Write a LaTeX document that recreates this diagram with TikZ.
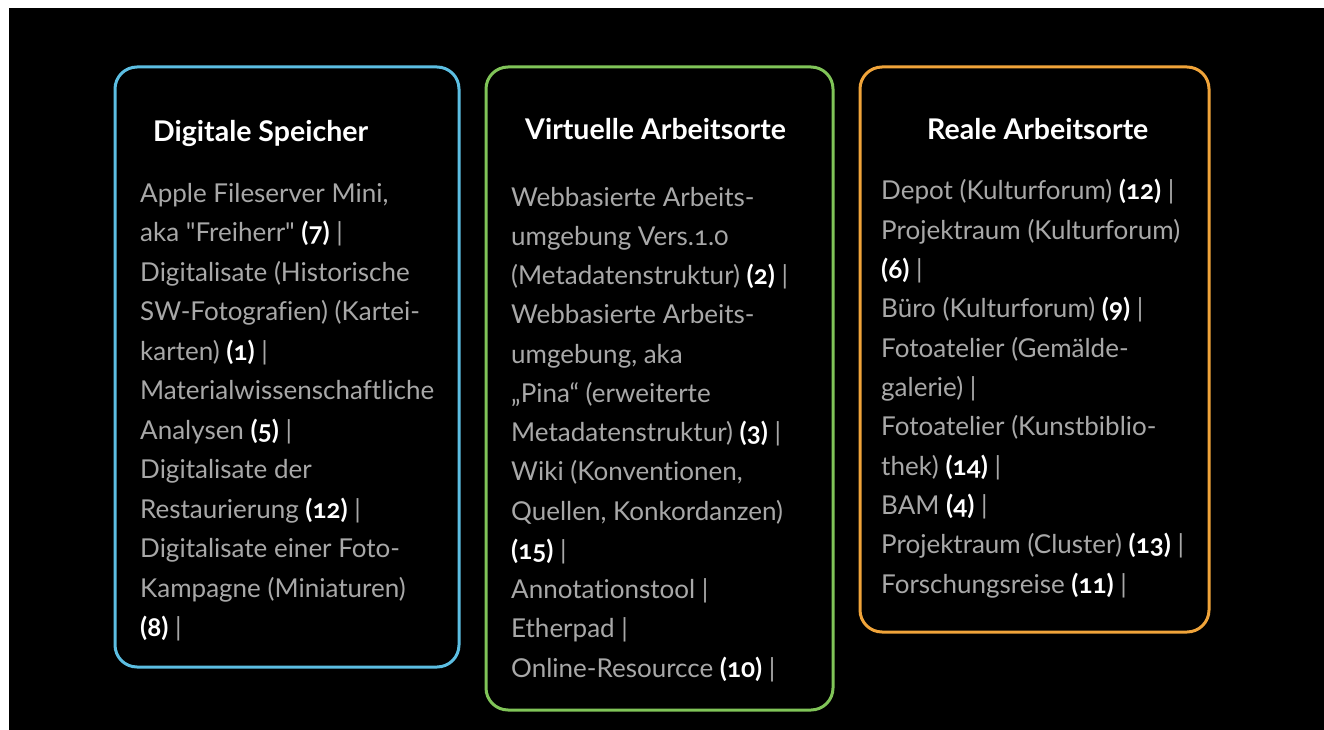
\documentclass[tikz,border=0pt]{standalone}
\usepackage{fontspec}
% \newfontfamily leaves out the TeX quote mapping, so " stays a straight quote
\newfontfamily\panelfont{Lato}[Numbers=OldStyle, Ligatures={NoCommon}]
\definecolor{bodygray}{RGB}{168,168,168}
\definecolor{panelblue}{RGB}{92,190,226}
\definecolor{panelgreen}{RGB}{128,196,88}
\definecolor{panelorange}{RGB}{240,164,58}
\newcommand\refnum[1]{\textcolor{white}{\bfseries(#1)}}
\begin{document}
\begin{tikzpicture}[x=1pt,y=-1pt,
  panel/.style={draw=#1, line width=3pt, rounded corners=22pt, inner sep=0pt, fill=black},
  heading/.style={anchor=base west, inner sep=0pt, text=white,
    font=\panelfont\fontsize{28.5}{33}\selectfont\bfseries},
  entry/.style={anchor=base west, inner sep=0pt, text=bodygray,
    font=\panelfont\fontsize{26}{30}\selectfont},
]
% canvas
\fill[white] (0,0) rectangle (1324,730);
\fill[black] (9,8) rectangle (1324,730);
\useasboundingbox (0,0) rectangle (1324,730);

% the three panels
\node[panel=panelblue,   minimum width=344pt, minimum height=600pt] (store) at (287,367) {};
\node[panel=panelgreen,  minimum width=347pt, minimum height=643pt] (virt)  at (659.5,388.5) {};
\node[panel=panelorange, minimum width=349pt, minimum height=565pt] (real)  at (1034.5,349.5) {};

% headings
\node[heading] (storehead) at (153,142) {Digitale Speicher};
\node[heading] (virthead)  at (525,140) {Virtuelle Arbeitsorte};
\node[heading] (realhead)  at (927,140) {Reale Arbeitsorte};

% digital storage
\foreach \t [count=\i] in {
  {Apple Fileserver Mini,},
  {aka "Freiherr" \refnum{7} |},
  {Digitalisate (Historische},
  {SW-Fotografien) (Kartei-},
  {karten) \refnum{1} |},
  {Materialwissenschaftliche},
  {Analysen \refnum{5} |},
  {Digitalisate der},
  {Restaurierung \refnum{12} |},
  {Digitalisate einer Foto-},
  {Kampagne (Miniaturen)},
  {\refnum{8} |}}
  \node[entry] (store\i) at (140,{202+(\i-1)*39.5}) {\t};

% virtual workplaces
\foreach \t [count=\i] in {
  {Webbasierte Arbeits-},
  {umgebung Vers.1.0},
  {(Metadatenstruktur) \refnum{2} |},
  {Webbasierte Arbeits-},
  {umgebung, aka},
  {„Pina“ (erweiterte},
  {Metadatenstruktur) \refnum{3} |},
  {Wiki (Konventionen,},
  {Quellen, Konkordanzen)},
  {\refnum{15} |},
  {Annotationstool |},
  {Etherpad |},
  {Online-Resourcce \refnum{10} |}}
  \node[entry] (virt\i) at (511,{206+(\i-1)*39.25}) {\t};

% real workplaces
\foreach \t [count=\i] in {
  {Depot (Kulturforum) \refnum{12} |},
  {Projektraum (Kulturforum)},
  {\refnum{6} |},
  {Büro (Kulturforum) \refnum{9} |},
  {Fotoatelier (Gemälde-},
  {galerie) |},
  {Fotoatelier (Kunstbiblio-},
  {thek) \refnum{14} |},
  {BAM \refnum{4} |},
  {Projektraum (Cluster) \refnum{13} |},
  {Forschungsreise \refnum{11} |}}
  \node[entry] (real\i) at (881,{200+(\i-1)*39.3}) {\t};
\end{tikzpicture}
\end{document}
